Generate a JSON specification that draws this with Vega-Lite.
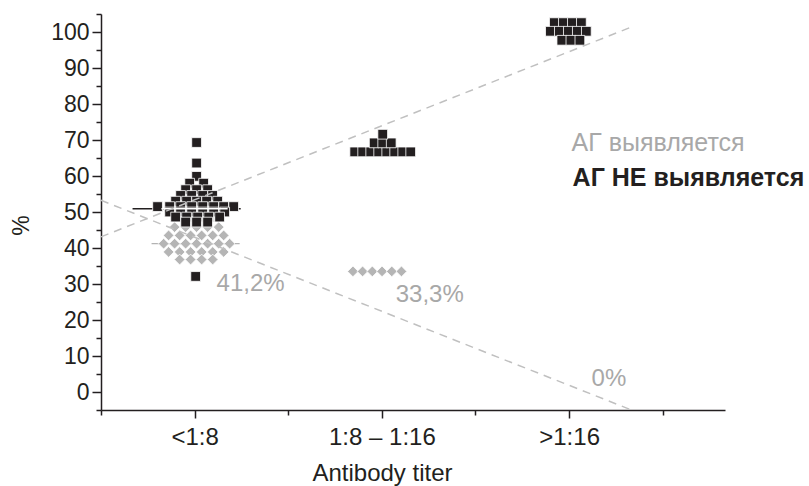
{
  "$schema": "https://vega.github.io/schema/vega-lite/v6.json",
  "width": 624,
  "height": 396,
  "autosize": {"type": "none"},
  "padding": {"left": 101, "top": 14, "right": 84, "bottom": 76},
  "background": "#ffffff",
  "config": {
    "view": {"stroke": null},
    "font": "Liberation Sans"
  },
  "datasets": {
    "squares": [
      {"x": 1.021, "y": 69.3}, {"x": 1.021, "y": 63.6}, {"x": 1.021, "y": 59.9},
      {"x": 0.947, "y": 58.0}, {"x": 1.096, "y": 58.0},
      {"x": 0.904, "y": 56.2}, {"x": 1.021, "y": 56.2}, {"x": 1.139, "y": 56.2},
      {"x": 0.850, "y": 54.6}, {"x": 0.968, "y": 54.6}, {"x": 1.086, "y": 54.6}, {"x": 1.192, "y": 54.6},
      {"x": 0.797, "y": 53.0}, {"x": 0.914, "y": 53.0}, {"x": 1.021, "y": 53.0}, {"x": 1.128, "y": 53.0}, {"x": 1.246, "y": 53.0},
      {"x": 0.604, "y": 51.5}, {"x": 0.733, "y": 51.5}, {"x": 0.850, "y": 51.5}, {"x": 0.968, "y": 51.5}, {"x": 1.086, "y": 51.5}, {"x": 1.203, "y": 51.5}, {"x": 1.310, "y": 51.5}, {"x": 1.417, "y": 51.5},
      {"x": 0.733, "y": 50.0}, {"x": 0.850, "y": 50.0}, {"x": 0.968, "y": 50.0}, {"x": 1.086, "y": 50.0}, {"x": 1.203, "y": 50.0}, {"x": 1.321, "y": 50.0},
      {"x": 0.797, "y": 48.6}, {"x": 0.914, "y": 48.6}, {"x": 1.032, "y": 48.6}, {"x": 1.150, "y": 48.6}, {"x": 1.267, "y": 48.6},
      {"x": 0.904, "y": 47.2}, {"x": 1.021, "y": 47.2}, {"x": 1.139, "y": 47.2},
      {"x": 1.011, "y": 32.1},
      {"x": 2.710, "y": 66.7}, {"x": 2.795, "y": 66.7}, {"x": 2.881, "y": 66.7}, {"x": 2.966, "y": 66.7}, {"x": 3.052, "y": 66.7}, {"x": 3.137, "y": 66.7}, {"x": 3.223, "y": 66.7}, {"x": 3.308, "y": 66.7},
      {"x": 2.918, "y": 69.2}, {"x": 3.009, "y": 69.2}, {"x": 3.100, "y": 69.2},
      {"x": 3.009, "y": 71.6},
      {"x": 4.842, "y": 102.6}, {"x": 4.939, "y": 102.6}, {"x": 5.035, "y": 102.6}, {"x": 5.131, "y": 102.6},
      {"x": 4.800, "y": 100.2}, {"x": 4.896, "y": 100.2}, {"x": 4.992, "y": 100.2}, {"x": 5.088, "y": 100.2}, {"x": 5.184, "y": 100.2},
      {"x": 4.922, "y": 97.7}, {"x": 5.019, "y": 97.7}, {"x": 5.115, "y": 97.7}
    ],
    "diamonds": [
      {"x": 0.786, "y": 45.8}, {"x": 0.904, "y": 45.8}, {"x": 1.021, "y": 45.8}, {"x": 1.139, "y": 45.8}, {"x": 1.257, "y": 45.8},
      {"x": 0.722, "y": 43.5}, {"x": 0.840, "y": 43.5}, {"x": 0.957, "y": 43.5}, {"x": 1.075, "y": 43.5}, {"x": 1.193, "y": 43.5}, {"x": 1.310, "y": 43.5},
      {"x": 0.669, "y": 41.2}, {"x": 0.786, "y": 41.2}, {"x": 0.904, "y": 41.2}, {"x": 1.021, "y": 41.2}, {"x": 1.139, "y": 41.2}, {"x": 1.257, "y": 41.2}, {"x": 1.374, "y": 41.2},
      {"x": 0.722, "y": 38.9}, {"x": 0.840, "y": 38.9}, {"x": 0.957, "y": 38.9}, {"x": 1.075, "y": 38.9}, {"x": 1.193, "y": 38.9}, {"x": 1.310, "y": 38.9},
      {"x": 0.840, "y": 36.8}, {"x": 0.957, "y": 36.8}, {"x": 1.075, "y": 36.8}, {"x": 1.193, "y": 36.8},
      {"x": 2.691, "y": 33.5}, {"x": 2.794, "y": 33.5}, {"x": 2.898, "y": 33.5}, {"x": 3.002, "y": 33.5}, {"x": 3.106, "y": 33.5}, {"x": 3.209, "y": 33.5}
    ],
    "refs": [
      {"k": "black", "x": 0.337, "x2": 1.492, "y": 50.9},
      {"k": "gray", "x": 0.540, "x2": 1.481, "y": 41.2},
      {"k": "white", "x": 0.645, "x2": 1.353, "y": 50.9}
    ],
    "trends": [
      {"id": "up", "x": 0, "y": 43.1}, {"id": "up", "x": 5.667, "y": 101.4},
      {"id": "down", "x": 0, "y": 53.25}, {"id": "down", "x": 5.667, "y": -5}
    ],
    "pct": [
      {"x": 1.235, "y": 29.9, "t": "41,2%"},
      {"x": 3.148, "y": 26.9, "t": "33,3%"},
      {"x": 5.24, "y": 3.6, "t": "0%"}
    ],
    "leg1": [{"x": 5.026, "y": 69.2, "t": "АГ выявляется"}],
    "leg2": [{"x": 5.037, "y": 59.4, "t": "АГ НЕ выявляется"}]
  },
  "encoding": {
    "x": {
      "field": "x", "type": "quantitative",
      "scale": {"domain": [0, 6.665], "nice": false, "zero": false},
      "axis": {
        "values": [0, 1, 2, 3, 4, 5, 6],
        "labelExpr": "datum.value == 1 ? '<1:8' : datum.value == 3 ? '1:8 – 1:16' : datum.value == 5 ? '>1:16' : ''",
        "tickSize": {"condition": {"test": "datum.value % 2 == 1", "value": 8}, "value": 5},
        "title": "Antibody titer",
        "grid": false,
        "domainColor": "#231f20", "tickColor": "#231f20",
        "domainWidth": 1.5, "tickWidth": 1.5,
        "labelFontSize": 24, "labelColor": "#231f20", "labelPadding": 7,
        "labelFlush": false, "labelOverlap": false,
        "titleFontSize": 24, "titleFontWeight": "normal", "titleColor": "#231f20",
        "titleX": 281, "titleY": 70, "titleBaseline": "alphabetic", "titleAlign": "center"
      }
    },
    "y": {
      "field": "y", "type": "quantitative",
      "scale": {"domain": [-5, 105], "nice": false, "zero": false},
      "axis": {
        "values": [-5, 0, 5, 10, 15, 20, 25, 30, 35, 40, 45, 50, 55, 60, 65, 70, 75, 80, 85, 90, 95, 100, 105],
        "labelExpr": "(datum.value % 10 == 0 && datum.value >= 0 && datum.value <= 100) ? datum.label : ''",
        "tickSize": {"condition": {"test": "datum.value % 10 == 0", "value": 9}, "value": 5},
        "title": "%",
        "grid": false,
        "domainColor": "#231f20", "tickColor": "#231f20",
        "domainWidth": 1.5, "tickWidth": 1.5,
        "labelFontSize": 23, "labelColor": "#231f20", "labelPadding": 3,
        "labelFlush": false, "labelOverlap": false,
        "titleFontSize": 23, "titleFontWeight": "normal", "titleColor": "#231f20",
        "titleX": -80, "titleY": 211, "titleAngle": -90, "titleBaseline": "middle", "titleAlign": "center"
      }
    }
  },
  "layer": [
    {
      "data": {"name": "refs"},
      "transform": [{"filter": "datum.k != 'white'"}],
      "mark": {"type": "rule", "strokeWidth": 1.3},
      "encoding": {
        "x2": {"field": "x2"},
        "color": {"field": "k", "type": "nominal", "scale": {"domain": ["black", "gray"], "range": ["#231f20", "#b3b3b3"]}, "legend": null}
      }
    },
    {
      "data": {"name": "diamonds"},
      "mark": {"type": "point", "shape": "diamond", "filled": true, "size": 115, "fill": "#b5b5b5", "stroke": "#ffffff", "strokeWidth": 0.8, "opacity": 1, "fillOpacity": 1}
    },
    {
      "data": {"name": "squares"},
      "mark": {"type": "point", "shape": "square", "filled": true, "size": 95, "fill": "#231f20", "stroke": "#ffffff", "strokeWidth": 0.8, "opacity": 1, "fillOpacity": 1}
    },
    {
      "data": {"name": "refs"},
      "transform": [{"filter": "datum.k == 'white'"}],
      "mark": {"type": "rule", "strokeWidth": 1.5, "color": "#ffffff"},
      "encoding": {"x2": {"field": "x2"}}
    },
    {
      "data": {"name": "trends"},
      "mark": {"type": "line", "strokeDash": [8, 6], "strokeWidth": 1.5, "color": "#c0c0c0"},
      "encoding": {"detail": {"field": "id", "type": "nominal"}}
    },
    {
      "data": {"name": "pct"},
      "mark": {"type": "text", "align": "left", "baseline": "middle", "fontSize": 24, "color": "#a8a8a8"},
      "encoding": {"text": {"field": "t"}}
    },
    {
      "data": {"name": "leg1"},
      "mark": {"type": "text", "align": "left", "baseline": "middle", "fontSize": 25, "color": "#a8a8a8"},
      "encoding": {"text": {"field": "t"}}
    },
    {
      "data": {"name": "leg2"},
      "mark": {"type": "text", "align": "left", "baseline": "middle", "fontSize": 25, "fontWeight": "bold", "color": "#231f20"},
      "encoding": {"text": {"field": "t"}}
    }
  ]
}
